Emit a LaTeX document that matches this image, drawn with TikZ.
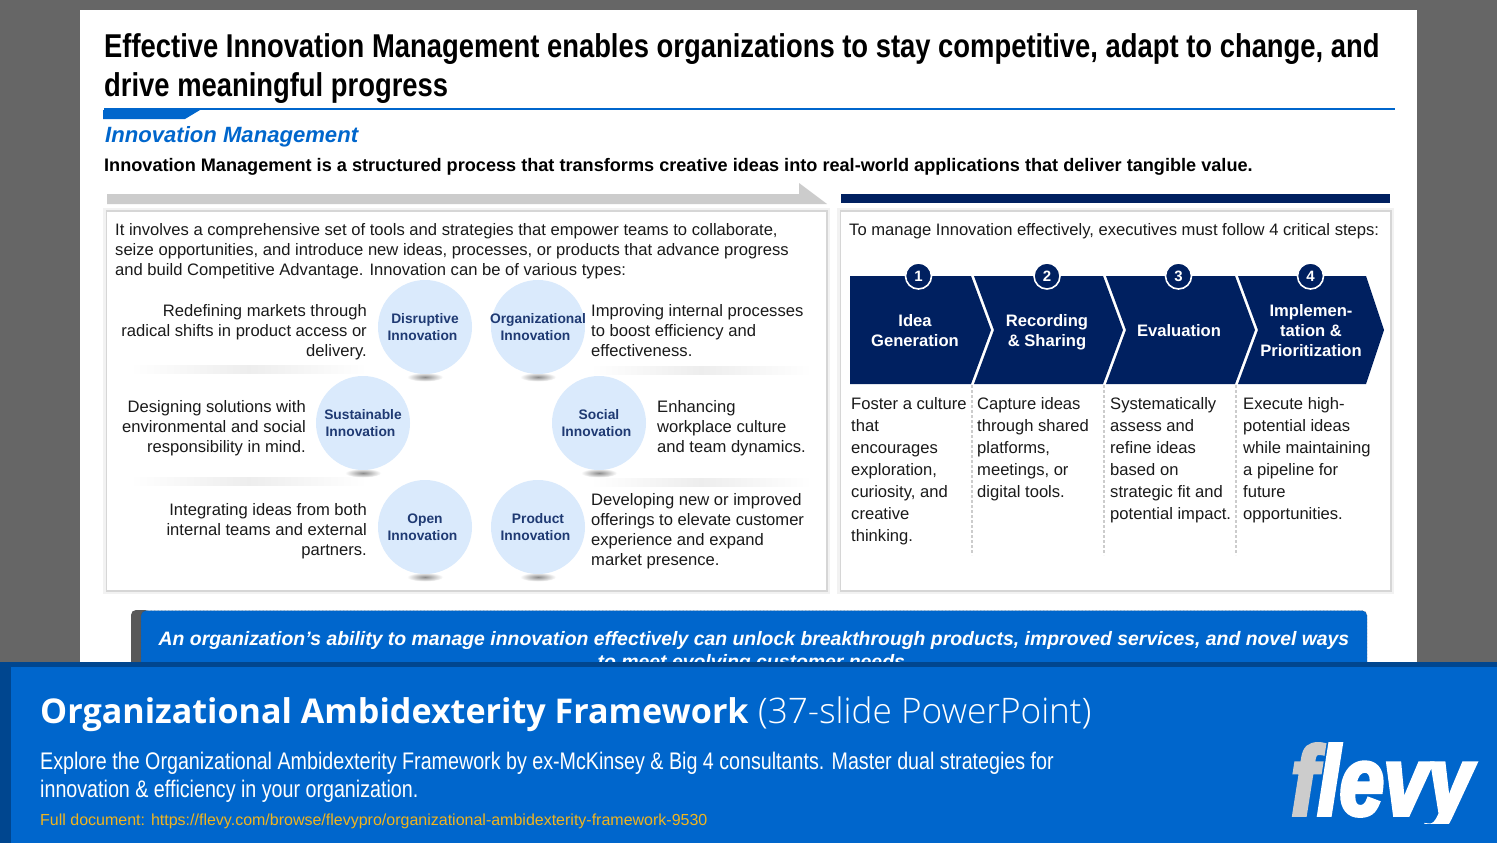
\documentclass[tikz,border=0pt]{standalone}
\usepackage{fontspec}
\setmainfont{Liberation Sans}
\newfontfamily\titlefont[FakeStretch=0.83]{Liberation Sans}
\newfontfamily\narrowfont[FakeStretch=0.82]{Liberation Sans}
\newfontfamily\headfont{Open Sans}
\newfontfamily\headlight{Open Sans Light}
\newfontfamily\logofont[FakeStretch=0.81,FakeBold=4]{Liberation Sans}
\newcommand{\innov}{Innovation\hspace*{5pt}}
\definecolor{navy}{HTML}{002060}
\definecolor{flevyblue}{HTML}{0066CC}
\definecolor{darkblue}{HTML}{00468F}
\definecolor{pale}{HTML}{DAEAFC}
\definecolor{circtext}{HTML}{1F3A73}
\definecolor{ink}{HTML}{1A1A1A}
\definecolor{linkgold}{HTML}{F0B41E}
\tikzset{
  body/.style={inner sep=0pt, text=ink, font=\fontsize{16.6}{20}\selectfont},
  lbody/.style={body, anchor=north west, align=left},
  rbody/.style={body, anchor=north east, align=right},
  stepbody/.style={inner sep=0pt, text=ink, anchor=north west, align=left, font=\fontsize{16.6}{22}\selectfont},
  circ/.style={circle, fill=pale, minimum size=94pt, inner sep=0pt, align=center, text=circtext, font=\fontsize{13.8}{17}\selectfont\bfseries},
  steplabel/.style={text=white, align=center, inner sep=0pt, font=\fontsize{16.6}{20}\selectfont\bfseries},
  num/.style={circle, fill=navy, draw=white, line width=1.6pt, minimum size=26pt, inner sep=0pt, text=white, font=\fontsize{15}{15}\selectfont\bfseries},
  panel/.style={fill=white, draw=black!5, line width=4pt},
  paneledge/.style={draw=black!16, line width=1.4pt},
  chev/.style={fill=navy, draw=none},
  sep/.style={draw=black!20, line width=1.2pt, densely dashed},
  rowshade/.style={left color=white, right color=white, middle color=black!7, draw=none},
  foot/.style={inner sep=0pt, anchor=base west}
}
\begin{document}
\begin{tikzpicture}[x=1pt, y=-1pt]
    \useasboundingbox (0, 0) rectangle (1497, 843);
    \fill[black!60] (0, 0) rectangle (1497, 843);
    \fill[white] (80, 10) rectangle (1417, 700);
    % title
    \node[inner sep=0pt, anchor=base west, font=\fontsize{33}{39}\selectfont\titlefont\bfseries] (title) at (104, 58)
        {Effective Innovation Management enables organizations to stay competitive, adapt to change, and};
    \node[inner sep=0pt, anchor=base west, font=\fontsize{33}{39}\selectfont\titlefont\bfseries] (title2) at (104, 96.5)
        {drive meaningful progress};
    \fill[flevyblue] (104, 108) rectangle (1395, 110.2);
    \fill[flevyblue] (103, 110) -- (200, 110) -- (185, 119) -- (103, 119) -- cycle;
    \node[inner sep=0pt, anchor=base west, text=flevyblue, font=\fontsize{22.1}{23}\selectfont\bfseries\itshape] (sub) at (105, 142) {Innovation Management};
    \node[inner sep=0pt, anchor=base west, font=\fontsize{18.13}{18}\selectfont\bfseries] (lead) at (104, 171)
        {Innovation Management is a structured process that transforms creative ideas into real-world applications that deliver tangible value.};
    % bars
    \fill[black!20] (107, 194) -- (799, 194) -- (799, 183) -- (827, 204) -- (107, 204) -- cycle;
    \fill[navy] (841, 194) rectangle (1390, 203);
    % panels
    \draw[panel] (105, 210) rectangle (828, 592);
    \draw[panel] (839, 210) rectangle (1392, 592);
    \draw[paneledge] (106.5, 211) rectangle (827, 591);
    \draw[paneledge] (840.5, 211) rectangle (1391, 591);
    % left panel
    \node[lbody] (intro) at (115, 223) {It involves a comprehensive set of tools and strategies that empower teams to collaborate,\\seize opportunities, and introduce new ideas, processes, or products that advance progress\\and build Competitive Advantage. Innovation can be of various types:};
    \fill[rowshade] (130, 365) rectangle (367, 373);
    \fill[rowshade] (590, 366) rectangle (812, 374);
    \fill[rowshade] (130, 477) rectangle (367, 485);
    \fill[rowshade] (590, 478) rectangle (812, 486);
    \shade[inner color=black!45, outer color=white] (425, 377) ellipse (18 and 4.5);
    \shade[inner color=black!45, outer color=white] (538, 377) ellipse (18 and 4.5);
    \shade[inner color=black!45, outer color=white] (363, 473) ellipse (18 and 4.5);
    \shade[inner color=black!45, outer color=white] (599, 473) ellipse (18 and 4.5);
    \shade[inner color=black!45, outer color=white] (425, 577) ellipse (18 and 4.5);
    \shade[inner color=black!45, outer color=white] (538, 577) ellipse (18 and 4.5);
    \node[circ] (c1) at (425, 327) {Disruptive\\\innov};
    \node[circ] (c2) at (538, 327) {\makebox[60pt]{Organizational}\\\innov};
    \node[circ] (c3) at (363, 423) {Sustainable\\\innov};
    \node[circ] (c4) at (599, 423) {Social\\\innov};
    \node[circ] (c5) at (425, 527) {Open\\\innov};
    \node[circ] (c6) at (538, 527) {Product\\\innov};
    \node[rbody] (t1) at (367, 304) {Redefining markets through\\radical shifts in product access or\\delivery.};
    \node[lbody] (t2) at (591, 304) {Improving internal processes\\to boost efficiency and\\effectiveness.};
    \node[rbody] (t3) at (306, 400) {Designing solutions with\\environmental and social\\responsibility in mind.};
    \node[lbody] (t4) at (657, 400) {Enhancing\\workplace culture\\and team dynamics.};
    \node[rbody] (t5) at (367, 503) {Integrating ideas from both\\internal teams and external\\partners.};
    \node[lbody] (t6) at (591, 493) {Developing new or improved\\offerings to elevate customer\\experience and expand\\market presence.};
    % right panel
    \node[lbody] (steps) at (849, 223) {To manage Innovation effectively, executives must follow 4 critical steps:};
    \fill[chev] (850, 276) -- (971, 276) -- (991, 330) -- (971, 384) -- (850, 384) -- cycle;
    \fill[chev] (974, 276) -- (1103, 276) -- (1123, 330) -- (1103, 384) -- (974, 384) -- (994, 330) -- cycle;
    \fill[chev] (1106, 276) -- (1235, 276) -- (1255, 330) -- (1235, 384) -- (1106, 384) -- (1126, 330) -- cycle;
    \fill[chev] (1238, 276) -- (1366, 276) -- (1384, 330) -- (1366, 384) -- (1238, 384) -- (1258, 330) -- cycle;
    \node[num] (n1) at (918.5, 276) {1};
    \node[num] (n2) at (1047, 276) {2};
    \node[num] (n3) at (1178.5, 276) {3};
    \node[num] (n4) at (1310.5, 276) {4};
    \node[steplabel] (s1) at (915, 331) {Idea\\Generation};
    \node[steplabel] (s2) at (1047, 332) {Recording\\\& Sharing};
    \node[steplabel] (s3) at (1179, 331) {Evaluation};
    \node[steplabel] (s4) at (1311, 331) {Implemen-\\tation \&\\Prioritization};
    \coordinate (d1a) at (972, 385);
    \coordinate (d1b) at (972, 555);
    \coordinate (d2a) at (1104, 385);
    \coordinate (d2b) at (1104, 555);
    \coordinate (d3a) at (1236, 385);
    \coordinate (d3b) at (1236, 555);
    \draw[sep] (d1a) -- (d1b);
    \draw[sep] (d2a) -- (d2b);
    \draw[sep] (d3a) -- (d3b);
    \node[stepbody] (b1) at (851, 397) {Foster a culture\\that\\encourages\\exploration,\\curiosity, and\\creative\\thinking.};
    \node[stepbody] (b2) at (977, 397) {Capture ideas\\through shared\\platforms,\\meetings, or\\digital tools.};
    \node[stepbody] (b3) at (1110, 397) {Systematically\\assess and\\refine ideas\\based on\\strategic fit and\\potential impact.};
    \node[stepbody] (b4) at (1243, 397) {Execute high-\\potential ideas\\while maintaining\\a pipeline for\\future\\opportunities.};
    % callout
    \fill[black!65, rounded corners=5pt] (131, 610) rectangle (150, 700);
    \draw[fill=flevyblue, draw=black!70, densely dotted, rounded corners=5pt] (141, 610.5) rectangle (1367, 700);
    \node[inner sep=0pt, text=white, align=center, font=\fontsize{19.4}{23}\selectfont\bfseries\itshape, anchor=north] (call) at (754, 631)
        {An organization’s ability to manage innovation effectively can unlock breakthrough products, improved services, and novel ways\\to meet evolving customer needs.};
    % footer
    \fill[darkblue] (0, 662) rectangle (1497, 843);
    \fill[flevyblue] (11, 667) rectangle (1497, 843);
    \node[foot, text=white, font=\fontsize{34.1}{36}\selectfont\headfont\bfseries] (fh) at (40, 723) {Organizational Ambidexterity Framework};
    \node[foot, text=white, font=\fontsize{35.2}{36}\selectfont\headlight] (fl) at (758, 723) {(37-slide PowerPoint)};
    \node[foot, text=white, font=\fontsize{24}{28}\selectfont\narrowfont] (f1) at (40, 769) {Explore the Organizational Ambidexterity Framework by ex-McKinsey \& Big 4 consultants. Master dual strategies for};
    \node[foot, text=white, font=\fontsize{24}{28}\selectfont\narrowfont] (f2) at (40, 797) {innovation \& efficiency in your organization.};
    \node[foot, text=linkgold, font=\fontsize{16}{16}\selectfont] (f3) at (40, 825) {Full document: https://flevy.com/browse/flevypro/organizational-ambidexterity-framework-9530};
    \begin{scope}
        \clip (1280, 735) rectangle (1490, 823);
        \node[foot, font=\fontsize{98}{98}\selectfont\logofont\bfseries\itshape] (logo) at (1291, 815) {\textcolor{black!20}{f}\textcolor{white}{levy}};
    \end{scope}
\end{tikzpicture}
\end{document}
